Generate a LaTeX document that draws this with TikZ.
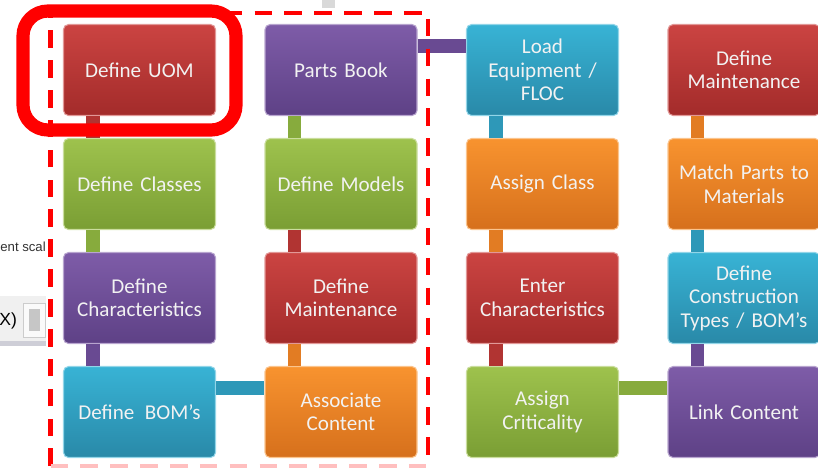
\documentclass[tikz,border=0pt]{standalone}
\usepackage{fontspec}
\setmainfont{Carlito}
\newfontfamily\uifont{Liberation Sans}
\usepackage{tikz}

\definecolor{hired}{HTML}{CB4442}
\definecolor{lored}{HTML}{A32B2A}
\definecolor{hipurple}{HTML}{7E5CA8}
\definecolor{lopurple}{HTML}{5E4186}
\definecolor{higreen}{HTML}{9EC24D}
\definecolor{logreen}{HTML}{7A9E34}
\definecolor{hicyan}{HTML}{38B3D5}
\definecolor{locyan}{HTML}{2989A8}
\definecolor{hiorange}{HTML}{F8932F}
\definecolor{loorange}{HTML}{D6701C}

\tikzset{
  stage/.style={rectangle, rounded corners=0.1cm, minimum width=3.04cm, minimum height=1.82cm,
    text width=2.9cm, align=center, inner sep=2pt, top color=hi#1, bottom color=lo#1,
    draw=hi#1!55!white, line width=0.6pt, text=white!95!black,
    font=\fontsize{12}{13.4}\selectfont},
  link/.style={line width=7.8pt, draw=hi#1!35!lo#1},
  highlight/.style={draw=red, line width=7.5pt, rounded corners=0.5cm},
  boundary/.style={draw=red, line width=2.8pt, dash pattern=on 10pt off 7pt}
}

\begin{document}
\begin{tikzpicture}[x=0.02cm, y=-0.02cm]
  \useasboundingbox (0,0) rectangle (818,468);

  % bits of the screenshot behind
  \fill[gray!30] (322,0) rectangle (335,8);
  \node[inner sep=0pt, anchor=west, font=\uifont\fontsize{7.5}{8}\selectfont, text=black!80] (scal) at (0,247) {ent scal};
  \fill[gray!12] (0,296) rectangle (46,341);
  \fill[white!96!gray, draw=gray!40] (23,303) rectangle (45,337);
  \fill[gray!45] (29,309) rectangle (40,331);
  \fill[blue!10!gray!35] (0,341) rectangle (46,346);
  \node[inner sep=0pt, anchor=west, font=\uifont\fontsize{10}{11}\selectfont] (tool) at (-1,321) {X)};

  % first column
  \node [stage=red]    (uom) at (139.5,70)  {Define UOM};
  \node [stage=green]  (cls) at (139.5,184) {Define Classes};
  \node [stage=purple] (chr) at (139.5,298) {Define\\Characteristics};
  \node [stage=cyan]   (bom) at (139.5,412) {Define\hspace{0.5em}BOM’s};
  % second column
  \node [stage=purple] (pbk) at (341,70)  {Parts Book};
  \node [stage=green]  (mdl) at (341,184) {Define Models};
  \node [stage=red]    (mnt) at (341,298) {Define\\Maintenance};
  \node [stage=orange] (asc) at (341,412) {Associate\\Content};
  % third column
  \node [stage=cyan]   (leq) at (542.5,70)  {Load\\Equipment /\\FLOC};
  \node [stage=orange] (acl) at (542.5,184) {Assign Class};
  \node [stage=red]    (ech) at (542.5,298) {Enter\\Characteristics};
  \node [stage=green]  (acr) at (542.5,412) {Assign\\Criticality};
  % fourth column
  \node [stage=red]    (dmt) at (744,70)  {Define\\Maintenance};
  \node [stage=orange] (mpm) at (744,184) {Match Parts to\\Materials};
  \node [stage=cyan]   (dct) at (744,298) {Define\\Construction\\Types / BOM’s};
  \node [stage=purple] (lnk) at (744,412) {Link Content};

  \foreach \a/\b/\c in {uom/cls/red, cls/chr/green, chr/bom/purple,
                        pbk/mdl/green, mdl/mnt/red, mnt/asc/orange,
                        leq/acl/cyan, acl/ech/orange, ech/acr/red,
                        dmt/mpm/orange, mpm/dct/cyan, dct/lnk/purple} {
      \draw [link=\c] ([xshift=0.6cm]\a.south west) -- ([xshift=0.6cm]\b.north west);
  }
  \foreach \a/\b/\c in {bom/asc/cyan, pbk/leq/purple, acr/lnk/green} {
      \draw [link=\c] ([yshift=-0.44cm]\a.north east) -- ([yshift=-0.44cm]\b.north west);
  }

  % the marked part
  \draw [boundary] (50.5,466) -- (50.5,13) -- (428,13) -- (428,466);
  \draw [boundary, draw=red!25] (50.5,466) -- (428,466);
  \draw [highlight] (23,11) rectangle (236,130);
\end{tikzpicture}
\end{document}
